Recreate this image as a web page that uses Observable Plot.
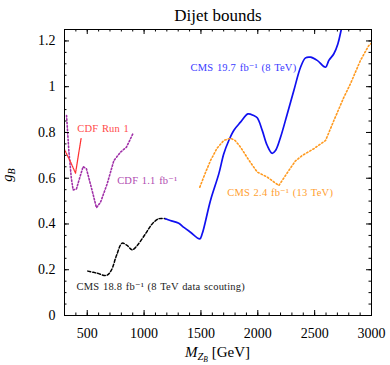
<!DOCTYPE html>
<html><head><meta charset="utf-8">
<script src="https://cdn.jsdelivr.net/npm/d3@7"></script>
<script src="https://cdn.jsdelivr.net/npm/@observablehq/plot@0.6"></script>
<style>html,body{margin:0;padding:0;background:#fff} svg{display:block}</style>
</head><body><div id="chart"></div>
<script>
// ---- data ----
const cdfRun1M = [300, 350, 397, 422, 447];
const cdfRun1G = [0.725, 0.675, 0.622, 0.70, 0.777];

const cdf11M = [318, 338, 360, 376, 405, 435, 464, 493, 543, 581, 617, 675, 734, 793, 845, 904];
const cdf11G = [0.874, 0.721, 0.60, 0.549, 0.553, 0.604, 0.651, 0.641, 0.546, 0.471, 0.495, 0.575, 0.677, 0.714, 0.736, 0.797];

const cms188M = [505, 587, 669, 711, 757, 807, 851, 895, 939, 1012, 1071, 1129, 1188];
const cms188G = [0.194, 0.185, 0.175, 0.197, 0.262, 0.316, 0.306, 0.287, 0.306, 0.357, 0.40, 0.423, 0.423];

const cms197M = [1188, 1230, 1305, 1350, 1408, 1490, 1511, 1584, 1657, 1701, 1745, 1790, 1848, 1913, 1960, 1995, 2039, 2083, 2126, 2156, 2200, 2259, 2317, 2376, 2420, 2464, 2522, 2596, 2625, 2669, 2704, 2734, 2750];
const cms197G = [0.423, 0.415, 0.403, 0.385, 0.364, 0.335, 0.357, 0.503, 0.619, 0.707, 0.765, 0.81, 0.845, 0.881, 0.875, 0.864, 0.809, 0.743, 0.709, 0.721, 0.779, 0.881, 0.983, 1.085, 1.126, 1.129, 1.115, 1.085, 1.115, 1.144, 1.187, 1.25, 1.29];

const cms24M = [1490, 1540, 1584, 1640, 1701, 1760, 1800, 1848, 1920, 1995, 2083, 2185, 2273, 2330, 2390, 2493, 2596, 2669, 2757, 2815, 2903, 2976, 3000];
const cms24G = [0.561, 0.625, 0.677, 0.73, 0.765, 0.775, 0.765, 0.736, 0.68, 0.627, 0.605, 0.568, 0.634, 0.675, 0.699, 0.729, 0.765, 0.852, 0.954, 1.013, 1.115, 1.18, 1.19];

const labelText = ["CDF Run 1", "CDF 1.1 fb\u207B\u00B9", "CMS 19.7 fb\u207B\u00B9 (8 TeV)", "CMS 2.4 fb\u207B\u00B9 (13 TeV)", "CMS 18.8 fb\u207B\u00B9 (8 TeV data scouting)"];
const labelM = [412, 763, 1408, 1731, 406];
const labelG = [0.816, 0.59, 1.083, 0.535, 0.128];
const labelColor = ["#ff4a4a", "#b04ab0", "#3a3aff", "#ffa030", "#222222"];

const xMajor = [500, 1000, 1500, 2000, 2500, 3000];
const xMinor = d3.range(300, 3001, 100);
const yMajor = [0, 0.2, 0.4, 0.6, 0.8, 1, 1.2];
const yMinor = d3.range(0, 1.2501, 0.05);

const rows = (M, G) => M.map((m, i) => ({M: m, g: G[i]}));
const labels = labelText.map((t, i) => ({t, M: labelM[i], g: labelG[i], c: labelColor[i]}));

const font = "'Liberation Serif', 'DejaVu Serif', serif";
const W = 390, H = 365, mT = 29, mB = 50, mL = 64, mR = 19;
const fw = W - mL - mR, fh = H - mT - mB;
const majL = 5, minL = 2.5;

const plot = Plot.plot({
  width: W, height: H,
  marginTop: mT, marginBottom: mB, marginLeft: mL, marginRight: mR,
  style: {fontFamily: font, fontSize: "14px", background: "white", color: "black"},
  x: {domain: [300, 3000], label: null, axis: null},
  y: {domain: [0, 1.25], label: null, axis: null},
  marks: [
    Plot.line(rows(cms188M, cms188G), {x: "M", y: "g", stroke: "black", strokeWidth: 1.5, strokeDasharray: "3,2", curve: "catmull-rom", clip: true}),
    Plot.line(rows(cms197M, cms197G), {x: "M", y: "g", stroke: "#1010f0", strokeWidth: 1.7, curve: "catmull-rom", clip: true}),
    Plot.line(rows(cms24M, cms24G), {x: "M", y: "g", stroke: "#ff9a20", strokeWidth: 1.6, strokeDasharray: "1.4,2.2", clip: true}),
    Plot.line(rows(cdf11M, cdf11G), {x: "M", y: "g", stroke: "#a030a8", strokeWidth: 1.6, strokeDasharray: "1.4,2", clip: true}),
    Plot.line(rows(cdfRun1M, cdfRun1G), {x: "M", y: "g", stroke: "#ff3030", strokeWidth: 1.3, strokeDasharray: "1,1", clip: true}),
    Plot.text(labels, {x: "M", y: "g", text: "t", fill: "c", textAnchor: "start", fontSize: 10.5}),
    Plot.text(["Dijet bounds"], {frameAnchor: "top", dy: -21, fontSize: 17, fill: "black"}),
    Plot.frame({stroke: "black", strokeWidth: 1}),
    // inward ticks on all four sides
    Plot.tickX(xMajor, {x: d => d, stroke: "black", insetTop: fh - majL}),
    Plot.tickX(xMinor, {x: d => d, stroke: "black", insetTop: fh - minL}),
    Plot.tickX(xMajor, {x: d => d, stroke: "black", insetBottom: fh - majL}),
    Plot.tickX(xMinor, {x: d => d, stroke: "black", insetBottom: fh - minL}),
    Plot.tickY(yMajor, {y: d => d, stroke: "black", insetRight: fw - majL}),
    Plot.tickY(yMinor, {y: d => d, stroke: "black", insetRight: fw - minL}),
    Plot.tickY(yMajor, {y: d => d, stroke: "black", insetLeft: fw - majL}),
    Plot.tickY(yMinor, {y: d => d, stroke: "black", insetLeft: fw - minL}),
    // tick labels
    Plot.axisX({ticks: xMajor, anchor: "bottom", tickSize: 0, tickPadding: 13, tickFormat: d => String(d), label: null, fontSize: 14}),
    Plot.axisY({ticks: yMajor, anchor: "left", tickSize: 0, tickPadding: 9, tickFormat: d => String(+d.toFixed(2)), label: null, fontSize: 14})
  ]
});
document.getElementById("chart").appendChild(plot);

const svg = d3.select(plot);
// wider spacing for the small annotation texts (first text mark)
svg.selectAll('g[aria-label="text"]').filter((d, i) => i === 0)
  .attr("letter-spacing", 0.2).attr("word-spacing", 0.8);

// axis titles with sub/subscripts
const xl = svg.append("text").attr("x", 217.5).attr("y", 357).attr("text-anchor", "middle")
  .attr("font-family", font).attr("font-size", 15).attr("fill", "black");
xl.append("tspan").attr("font-style", "italic").text("M");
xl.append("tspan").attr("font-style", "italic").attr("font-size", 10.5).attr("dy", 3).text("Z");
xl.append("tspan").attr("font-style", "italic").attr("font-size", 7.5).attr("dy", 2).text("B");
xl.append("tspan").attr("dy", -5).text(" [GeV]");

const yl = svg.append("text").attr("transform", "translate(12,175) rotate(-90)").attr("text-anchor", "middle")
  .attr("font-family", font).attr("font-size", 14.5).attr("fill", "black");
yl.append("tspan").attr("font-style", "italic").text("g");
yl.append("tspan").attr("font-style", "italic").attr("font-size", 10).attr("dy", 2.5).text("B");
</script>
</body></html>
